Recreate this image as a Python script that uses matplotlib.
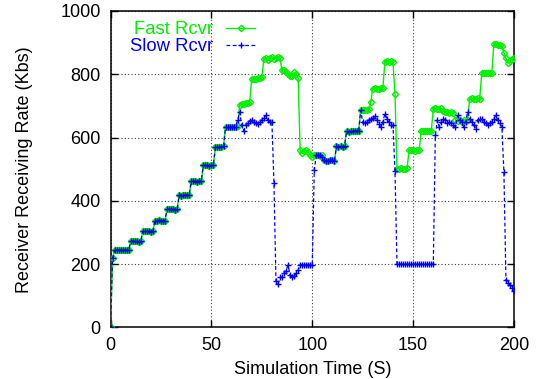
import numpy as np
import matplotlib
matplotlib.use("Agg")
import matplotlib.pyplot as plt

plt.rcParams["font.family"] = ["Liberation Sans", "DejaVu Sans"]
plt.rcParams["font.size"] = 13

# Simulation time (s), one sample per second
time_s = np.arange(0, 201)

# Receiving rate of the fast receiver (Kbs)
fast_rcvr = [
    0, 218, 244, 245, 244, 245, 244, 245, 244, 245,
    272, 272, 273, 272, 271, 272, 304, 304, 305, 304,
    303, 304, 338, 338, 339, 338, 337, 338, 373, 373,
    374, 373, 372, 373, 418, 417, 418, 419, 418, 418,
    462, 462, 463, 461, 462, 463, 512, 512, 513, 511,
    512, 514, 570, 569, 570, 571, 572, 633, 632, 633,
    634, 633, 635, 636, 702, 705, 707, 708, 710, 714,
    786, 785, 786, 788, 787, 790, 848, 852, 846, 850,
    854, 848, 852, 855, 850, 812, 815, 808, 800, 796,
    794, 806, 800, 788, 560, 550, 558, 560, 554, 546,
    539, 544, 545, 544, 543, 544, 528, 527, 526, 530,
    528, 527, 572, 571, 572, 570, 574, 620, 619, 621,
    620, 622, 620, 621, 686, 687, 688, 686, 690, 712,
    755, 756, 754, 755, 757, 756, 840, 842, 838, 841,
    839, 739, 502, 502, 503, 501, 502, 503, 560, 561,
    560, 559, 560, 561, 621, 620, 621, 622, 620, 621,
    691, 692, 691, 690, 692, 684, 680, 681, 678, 682,
    679, 656, 654, 655, 650, 657, 653, 655, 723, 724,
    723, 722, 724, 723, 804, 805, 804, 803, 805, 804,
    895, 897, 894, 892, 888, 868, 850, 835, 842, 848,
    852,
]

# Receiving rate of the slow receiver (Kbs)
slow_rcvr = [
    0, 218, 244, 245, 244, 245, 244, 245, 244, 245,
    272, 272, 273, 272, 271, 272, 304, 304, 305, 304,
    303, 304, 338, 338, 339, 338, 337, 338, 373, 373,
    374, 373, 372, 373, 418, 417, 418, 419, 418, 418,
    462, 462, 463, 461, 462, 463, 512, 512, 513, 511,
    512, 514, 570, 569, 570, 571, 572, 633, 632, 633,
    634, 633, 635, 655, 681, 640, 622, 640, 645, 652,
    655, 649, 646, 644, 650, 655, 662, 670, 655, 650,
    649, 458, 147, 137, 158, 160, 172, 180, 197, 165,
    160, 162, 172, 181, 198, 199, 198, 199, 198, 199,
    199, 499, 544, 545, 544, 540, 528, 527, 526, 530,
    528, 527, 572, 571, 572, 570, 574, 620, 619, 621,
    620, 622, 620, 621, 686, 650, 646, 650, 655, 660,
    662, 667, 655, 644, 632, 650, 676, 660, 649, 639,
    640, 495, 200, 200, 200, 200, 200, 200, 200, 200,
    200, 200, 200, 200, 200, 200, 200, 200, 200, 200,
    200, 607, 655, 634, 649, 660, 655, 646, 649, 645,
    640, 634, 670, 655, 649, 634, 650, 681, 660, 649,
    640, 628, 655, 658, 660, 649, 645, 639, 645, 649,
    660, 670, 655, 645, 634, 491, 149, 139, 134, 125,
    115,
]

x_ticks = [0, 50, 100, 150, 200]
y_ticks = [0, 200, 400, 600, 800, 1000]

fig = plt.figure(figsize=(5.41, 3.79), dpi=100)
ax = fig.add_axes([0.2043, 0.1359, 0.7458, 0.8351])

green = "#00f000"
ax.plot(time_s, fast_rcvr, color=green, lw=1.0, marker="D", ms=3.2,
        mfc="none", mec=green, mew=1.0, label="Fast Rcvr", zorder=3)
ax.plot(time_s, slow_rcvr, color="#0000ff", lw=0.9, ls=(0, (3, 2)),
        marker="+", ms=4.6, mew=1.0, label="Slow Rcvr", zorder=4)

ax.set_xlim(0, 200)
ax.set_ylim(0, 1000)
ax.set_xticks(x_ticks)
ax.set_yticks(y_ticks)
ax.tick_params(direction="in", length=5, width=1, top=True, right=True, pad=7)
ax.grid(True, color="0.25", linestyle=(0, (1, 2)), lw=0.8)
for sp in ax.spines.values():
    sp.set_linewidth(1.1)

ax.set_xlabel("Simulation Time (S)", labelpad=5)
ax.set_ylabel("Receiver Receiving Rate (Kbs)", labelpad=20)

leg = ax.legend(loc="upper left", bbox_to_anchor=(0.240, 0.944),
                bbox_transform=fig.transFigure, frameon=False,
                markerfirst=False, borderpad=0, borderaxespad=0,
                labelspacing=0, handlelength=1.6, handletextpad=0.7,
                fontsize=13.3)
for txt, line in zip(leg.get_texts(), leg.get_lines()):
    txt.set_color(line.get_color())

fig.savefig("out.png", dpi=100)
